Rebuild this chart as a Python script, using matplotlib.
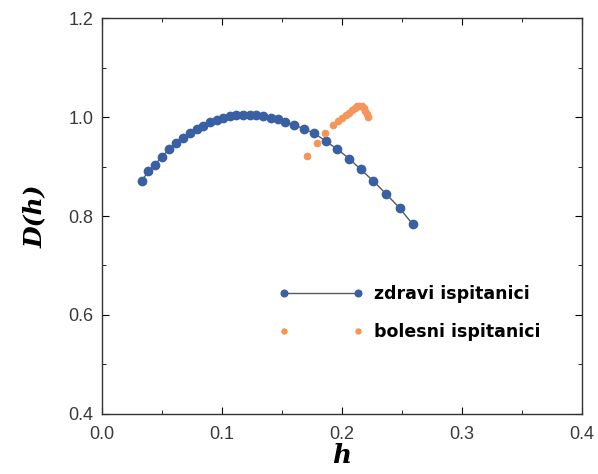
import numpy as np
import matplotlib
matplotlib.use("Agg")
from matplotlib import pyplot as plt
from matplotlib.ticker import MultipleLocator, FormatStrFormatter

# zdravi ispitanici
h_zdravi = [0.033, 0.0386, 0.0442, 0.0500, 0.0560, 0.0620, 0.0678, 0.0735, 0.0790,
            0.0845, 0.0900, 0.0956, 0.1010, 0.1065, 0.1120, 0.1175, 0.1230, 0.1287,
            0.1345, 0.1405, 0.1465, 0.1525, 0.1600, 0.1686, 0.1770, 0.1867, 0.1960,
            0.2060, 0.2156, 0.2260, 0.2370, 0.2480, 0.2590]
D_zdravi = [0.871, 0.890, 0.904, 0.920, 0.935, 0.947, 0.958, 0.967, 0.976,
            0.982, 0.989, 0.994, 0.998, 1.002, 1.004, 1.005, 1.005, 1.004,
            1.002, 0.999, 0.995, 0.990, 0.984, 0.976, 0.967, 0.951, 0.935,
            0.916, 0.894, 0.871, 0.844, 0.816, 0.783]

# bolesni ispitanici
h_bolesni = [0.1706, 0.179, 0.186, 0.1928, 0.197, 0.200, 0.203, 0.2055, 0.208,
             0.2105, 0.2125, 0.2145, 0.2163, 0.218, 0.2195, 0.2208, 0.222]
D_bolesni = [0.922, 0.947, 0.967, 0.984, 0.992, 0.998, 1.004, 1.009, 1.014,
             1.019, 1.022, 1.023, 1.022, 1.018, 1.013, 1.007, 1.001]

plava = "#3a60a4"
narandzasta = "#f5955a"

fig = plt.figure(figsize=(5.98, 4.74), dpi=100)
ax = fig.add_axes([0.1706, 0.1266, 0.8026, 0.8354])

ax.plot(h_zdravi, D_zdravi, "-o", color="#555a66", lw=1.0,
        markerfacecolor=plava, markeredgecolor=plava, markersize=6,
        label="zdravi ispitanici")
ax.plot(h_bolesni, D_bolesni, "o", color=narandzasta, markersize=4.5,
        label="bolesni ispitanici")

ax.set_xlim(0.0, 0.4)
ax.set_ylim(0.4, 1.2)
ax.xaxis.set_major_locator(MultipleLocator(0.1))
ax.xaxis.set_minor_locator(MultipleLocator(0.05))
ax.yaxis.set_major_locator(MultipleLocator(0.2))
ax.yaxis.set_minor_locator(MultipleLocator(0.1))
ax.xaxis.set_major_formatter(FormatStrFormatter("%.1f"))
ax.yaxis.set_major_formatter(FormatStrFormatter("%.1f"))
ax.tick_params(which="both", direction="in", top=True, right=True,
               labelsize=13, labelcolor="#3a3a3a", pad=6)
ax.tick_params(axis="x", which="major", pad=9)
ax.tick_params(which="major", length=5)
ax.tick_params(which="minor", length=3)
for s in ax.spines.values():
    s.set_linewidth(1.0)
    s.set_color("#333333")
for lab in ax.get_xticklabels() + ax.get_yticklabels():
    lab.set_family("Liberation Sans")

ax.set_xlabel("h", family="DejaVu Serif", style="italic", weight="bold",
              fontsize=19, labelpad=0)
ax.set_ylabel("D(h)", family="DejaVu Serif", style="italic", weight="bold",
              fontsize=18, labelpad=16)

ax.legend(loc="center left", bbox_to_anchor=(0.335, 0.255), frameon=False,
          numpoints=2, handlelength=4.9, handletextpad=0.6, labelspacing=1.15,
          markerscale=0.8,
          prop={"family": "DejaVu Sans", "weight": "bold", "size": 12.5})

fig.savefig("out.png", dpi=100)
